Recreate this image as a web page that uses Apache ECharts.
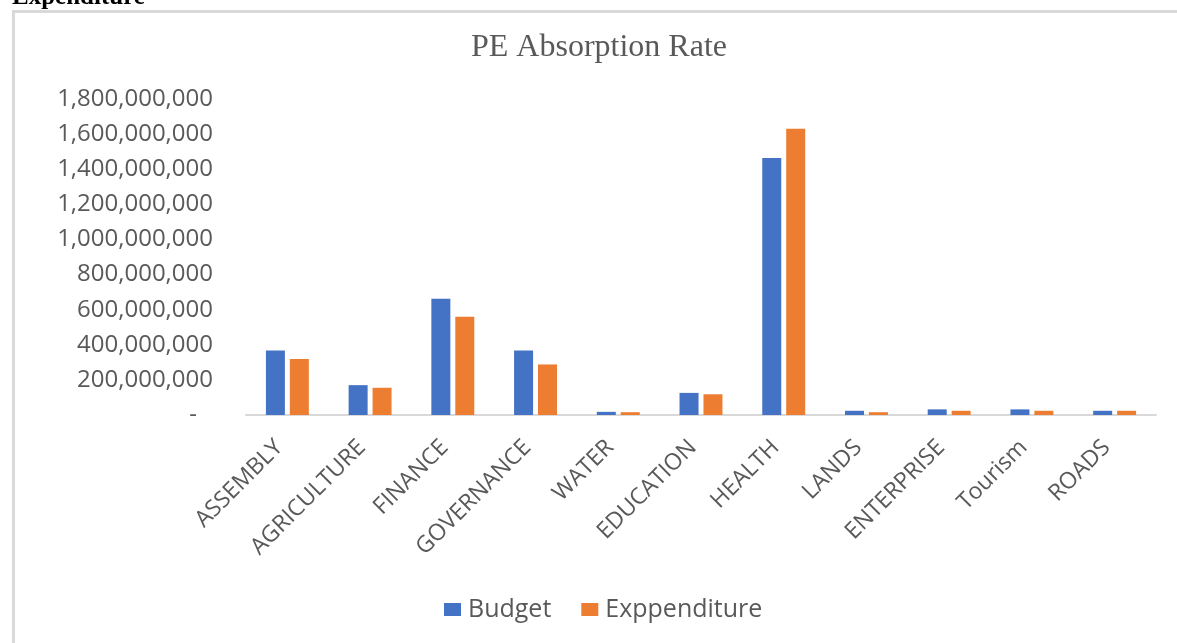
<!DOCTYPE html>
<html>
<head>
<meta charset="utf-8">
<title>PE Absorption Rate</title>
<script src="https://cdn.jsdelivr.net/npm/echarts@6/dist/echarts.min.js"></script>
<style>
  html, body { margin: 0; padding: 0; background: #fff; }
  #chart { width: 1177px; height: 643px; }
</style>
</head>
<body>
<div id="chart"></div>
<script>
// departments on the x axis
var categories = ['ASSEMBLY', 'AGRICULTURE', 'FINANCE', 'GOVERNANCE', 'WATER', 'EDUCATION',
  'HEALTH', 'LANDS', 'ENTERPRISE', 'Tourism', 'ROADS'];
// values
var budget = [368e6, 170e6, 662e6, 368e6, 18e6, 126e6, 1464e6, 24e6, 32e6, 32e6, 24e6];
var expenditure = [319e6, 155e6, 559e6, 288e6, 16e6, 118e6, 1630e6, 16e6, 24e6, 24e6, 24e6];
var yMax = 1800000000;
var yStep = 200000000;

var labelColor = '#595959';
var labelFont = 'Open Sans';

var myChart = echarts.init(document.getElementById('chart'));

var option = {
  backgroundColor: '#fff',
  animation: false,
  title: {
    text: 'PE Absorption Rate',
    left: 471,
    top: 32,
    padding: 0,
    textStyle: {
      fontFamily: 'Liberation Serif',
      fontSize: 32,
      fontWeight: 'normal',
      color: labelColor
    }
  },
  legend: {
    data: ['Budget', 'Exppenditure'],
    left: 444,
    top: 597,
    padding: 0,
    itemWidth: 17,
    itemHeight: 13,
    itemGap: 30,
    icon: 'rect',
    textStyle: {
      fontFamily: labelFont,
      fontSize: 25,
      color: labelColor,
      padding: [0, 0, 0, 2]
    }
  },
  grid: {
    left: 246,
    right: 21,
    top: 99,
    bottom: 228
  },
  xAxis: {
    type: 'category',
    data: categories,
    axisLine: {
      lineStyle: { color: '#d9d9d9', width: 2 }
    },
    axisTick: { show: false },
    axisLabel: {
      interval: 0,
      rotate: 45,
      margin: 37,
      verticalAlign: 'bottom',
      fontFamily: labelFont,
      fontSize: 23,
      color: labelColor
    }
  },
  yAxis: {
    type: 'value',
    min: 0,
    max: yMax,
    interval: yStep,
    splitLine: { show: false },
    axisLine: { show: false },
    axisTick: { show: false },
    axisLabel: {
      margin: 33,
      fontFamily: labelFont,
      fontSize: 24,
      color: labelColor,
      formatter: function (v) {
        if (v === 0) return '{dash|-}';
        return v.toLocaleString('en-US');
      },
      rich: {
        dash: {
          fontFamily: labelFont,
          fontSize: 24,
          color: labelColor,
          padding: [0, 16, 0, 0]
        }
      }
    }
  },
  series: [{
    name: 'Budget',
    type: 'bar',
    data: budget,
    barWidth: 19,
    barGap: '26%',
    itemStyle: { color: '#4472c4' }
  }, {
    name: 'Exppenditure',
    type: 'bar',
    data: expenditure,
    barWidth: 19,
    itemStyle: { color: '#ed7d31' }
  }],
  graphic: [{
    // frame of the chart box, cut off at the right and bottom
    type: 'rect',
    left: 11,
    top: 9,
    shape: { width: 1200, height: 700 },
    style: { fill: 'none', stroke: '#d9d9d9', lineWidth: 3 }
  }, {
    // heading above the chart, mostly cut off
    type: 'text',
    left: 12,
    top: -15,
    style: {
      text: 'Expenditure',
      font: 'bold 25px "Liberation Serif"',
      fill: '#000'
    }
  }]
};

myChart.setOption(option, true);

window.addEventListener('resize', function () {
  myChart.resize();
});
</script>
</body>
</html>
